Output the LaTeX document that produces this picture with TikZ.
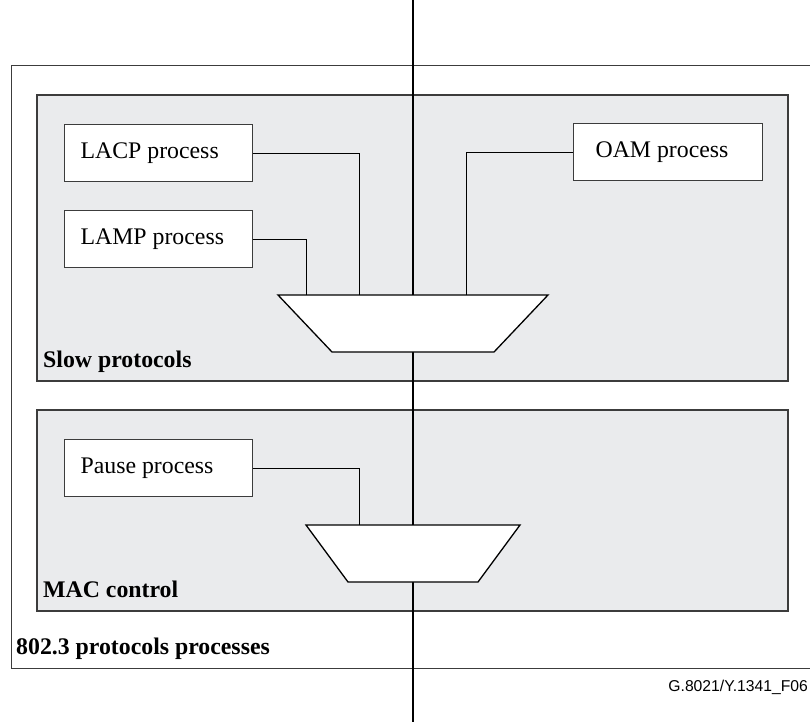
\documentclass[tikz,border=0pt]{standalone}
\usepackage{fontspec}
\setmainfont{Liberation Serif}
\newfontfamily\capfont{Liberation Sans}
\usepackage{tikz}
\definecolor{panelgray}{RGB}{234,235,237}
\definecolor{edgegray}{RGB}{60,60,60}

\tikzset{
	proc/.style={draw=edgegray, line width=1.2pt, fill=white, anchor=north west,
		minimum width=188pt, minimum height=57pt, inner xsep=16pt, text width=156pt,
		align=flush left, font=\fontsize{23.8pt}{28pt}\selectfont},
	panel/.style={draw=edgegray, line width=1.2pt, fill=panelgray},
	title/.style={anchor=base west, inner sep=0pt, font=\fontsize{23.8pt}{28pt}\selectfont\bfseries},
	wire/.style={line width=1pt, black},
	mux/.style={draw=black, line width=1.3pt, fill=white, line join=miter}
}

\begin{document}
\begin{tikzpicture}[x=1pt,y=-1pt]
	%\draw[help lines] (0,0) grid[step=50] (810,722);
	\useasboundingbox (0,0) rectangle (810,722);
	\draw[edgegray, line width=1pt] (11,66) rectangle (812,668);
	\draw[panel] (37,95) rectangle (788,381);
	\draw[panel] (37,410) rectangle (788,611);
	\node[title] (slowlbl) at (43,367) {Slow protocols};
	\node[title] (maclbl) at (43,597) {MAC control};
	\node[title] (outerlbl) at (16,654) {802.3 protocols processes};
	% process boxes
	\node[proc] (lacp) at (64,124) {LACP process};
	\node[proc] (lamp) at (64,210) {LAMP process};
	\node[proc, inner xsep=22pt, text width=145pt] (oam) at (573,123) {OAM process};
	\node[proc] (pause) at (64,439) {Pause process};
	% main line
	\coordinate (top) at (413,0);
	\coordinate (bot) at (413,722);
	\draw[line width=2pt] (top) -- (bot);
	% multiplexers
	\coordinate (mux1) at (413,295);
	\coordinate (mux2) at (413,525);
	\draw[mux] (278,295) -- (548,295) -- (494,352) -- (332,352) -- cycle;
	\draw[mux] (306,525) -- (520,525) -- (478,582) -- (348,582) -- cycle;
	% connectors
	\draw[wire] (lamp.east) -| ([xshift=-107pt]mux1);
	\draw[wire] (lacp.east) -| ([xshift=-54pt]mux1);
	\draw[wire] (oam.west) -| ([xshift=53pt]mux1);
	\draw[wire] (pause.east) -| ([xshift=-54pt]mux2);
	\node[anchor=base east, inner sep=0pt, font=\capfont\fontsize{15.7pt}{18pt}\selectfont] (figid) at (808,691) {G.8021/Y.1341\_F06};
\end{tikzpicture}
\end{document}
